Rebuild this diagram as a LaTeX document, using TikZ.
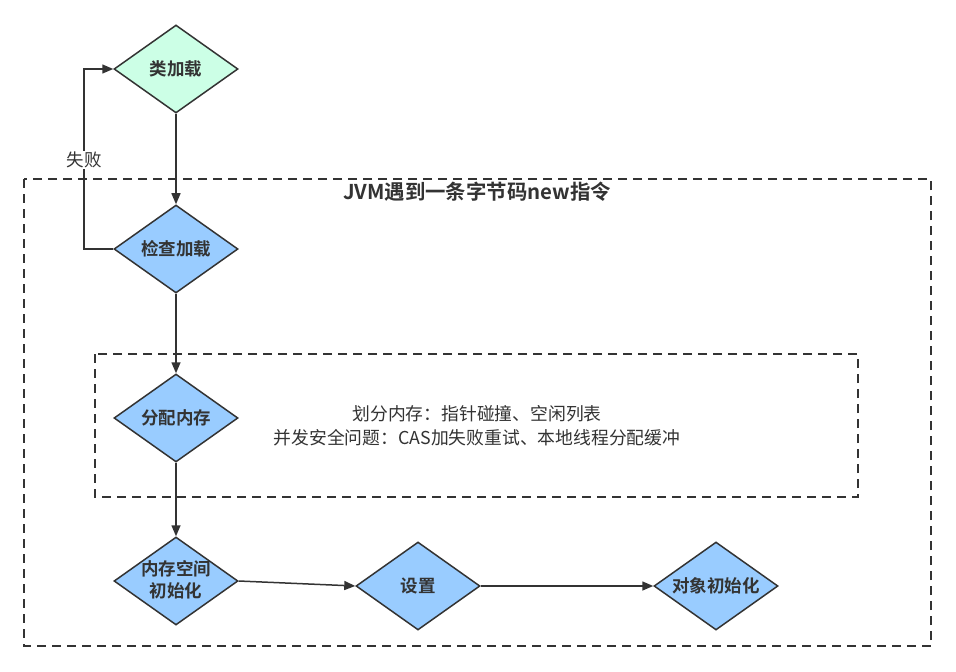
\documentclass[tikz,border=0pt]{standalone}
\usepackage{fontspec}
\setmainfont{Noto Sans CJK SC}[BoldFont={Noto Sans CJK SC Bold}]
\usetikzlibrary{shapes.geometric,arrows.meta}
\definecolor{ink}{HTML}{333333}
\definecolor{mint}{HTML}{CCFFE6}
\definecolor{sky}{HTML}{99CCFF}
\tikzset{
  dia/.style={diamond, draw=ink, line width=1.5pt, minimum width=124pt, minimum height=88pt,
    aspect=1.41, inner sep=1pt, font=\fontsize{17.5}{22}\selectfont\bfseries, text=ink, fill=sky},
  conn/.style={draw=ink, line width=1.5pt, -{Triangle[length=11pt,width=9pt]}},
  dbox/.style={draw=ink, line width=1.5pt, dash pattern=on 9pt off 6pt},
}
\begin{document}
\begin{tikzpicture}[x=1pt,y=-1pt]
\useasboundingbox (0,0) rectangle (956,672);
\fill[white] (0,0) rectangle (956,672);
% dashed boxes
\draw[dbox] (24,179) rectangle (931,646);
\draw[dbox] (95,354) rectangle (858,497);
\node[text=ink, font=\fontsize{20.4}{24}\selectfont\bfseries] (title) at (477,192) {JVM遇到一条字节码new指令};
\node[text=ink, font=\fontsize{17.8}{24}\selectfont, align=center] (note) at (477,426) {划分内存：指针碰撞、空闲列表\\并发安全问题：CAS加失败重试、本地线程分配缓冲};
% diamonds
\node[dia, fill=mint] (load) at (176,69) {类加载};
\node[dia] (check) at (176,249) {检查加载};
\node[dia] (alloc) at (176,418) {分配内存};
\node[dia] (zero) at (176,581) {\raisebox{-11pt}{\smash{\begin{tabular}{@{}c@{}}内存空间\\初始化\end{tabular}}}};
\node[dia] (set) at (418,586) {设置};
\node[dia] (init) at (716,586) {对象初始化};
% connectors
\draw[conn] (load) -- (check);
\draw[conn] (check) -- (alloc);
\draw[conn] (alloc) -- (zero);
\draw[conn] (zero.east) -- (set.west);
\draw[conn] (set) -- (init);
\coordinate (c1) at (84,249);
\coordinate (c2) at (84,69);
\draw[conn] (check.west) -- (c1) -- (c2) -- (load.west);
\node[fill=white, inner sep=1pt, text=ink, font=\fontsize{17.5}{20}\selectfont] (fail) at (84,160) {失败};
\end{tikzpicture}
\end{document}
